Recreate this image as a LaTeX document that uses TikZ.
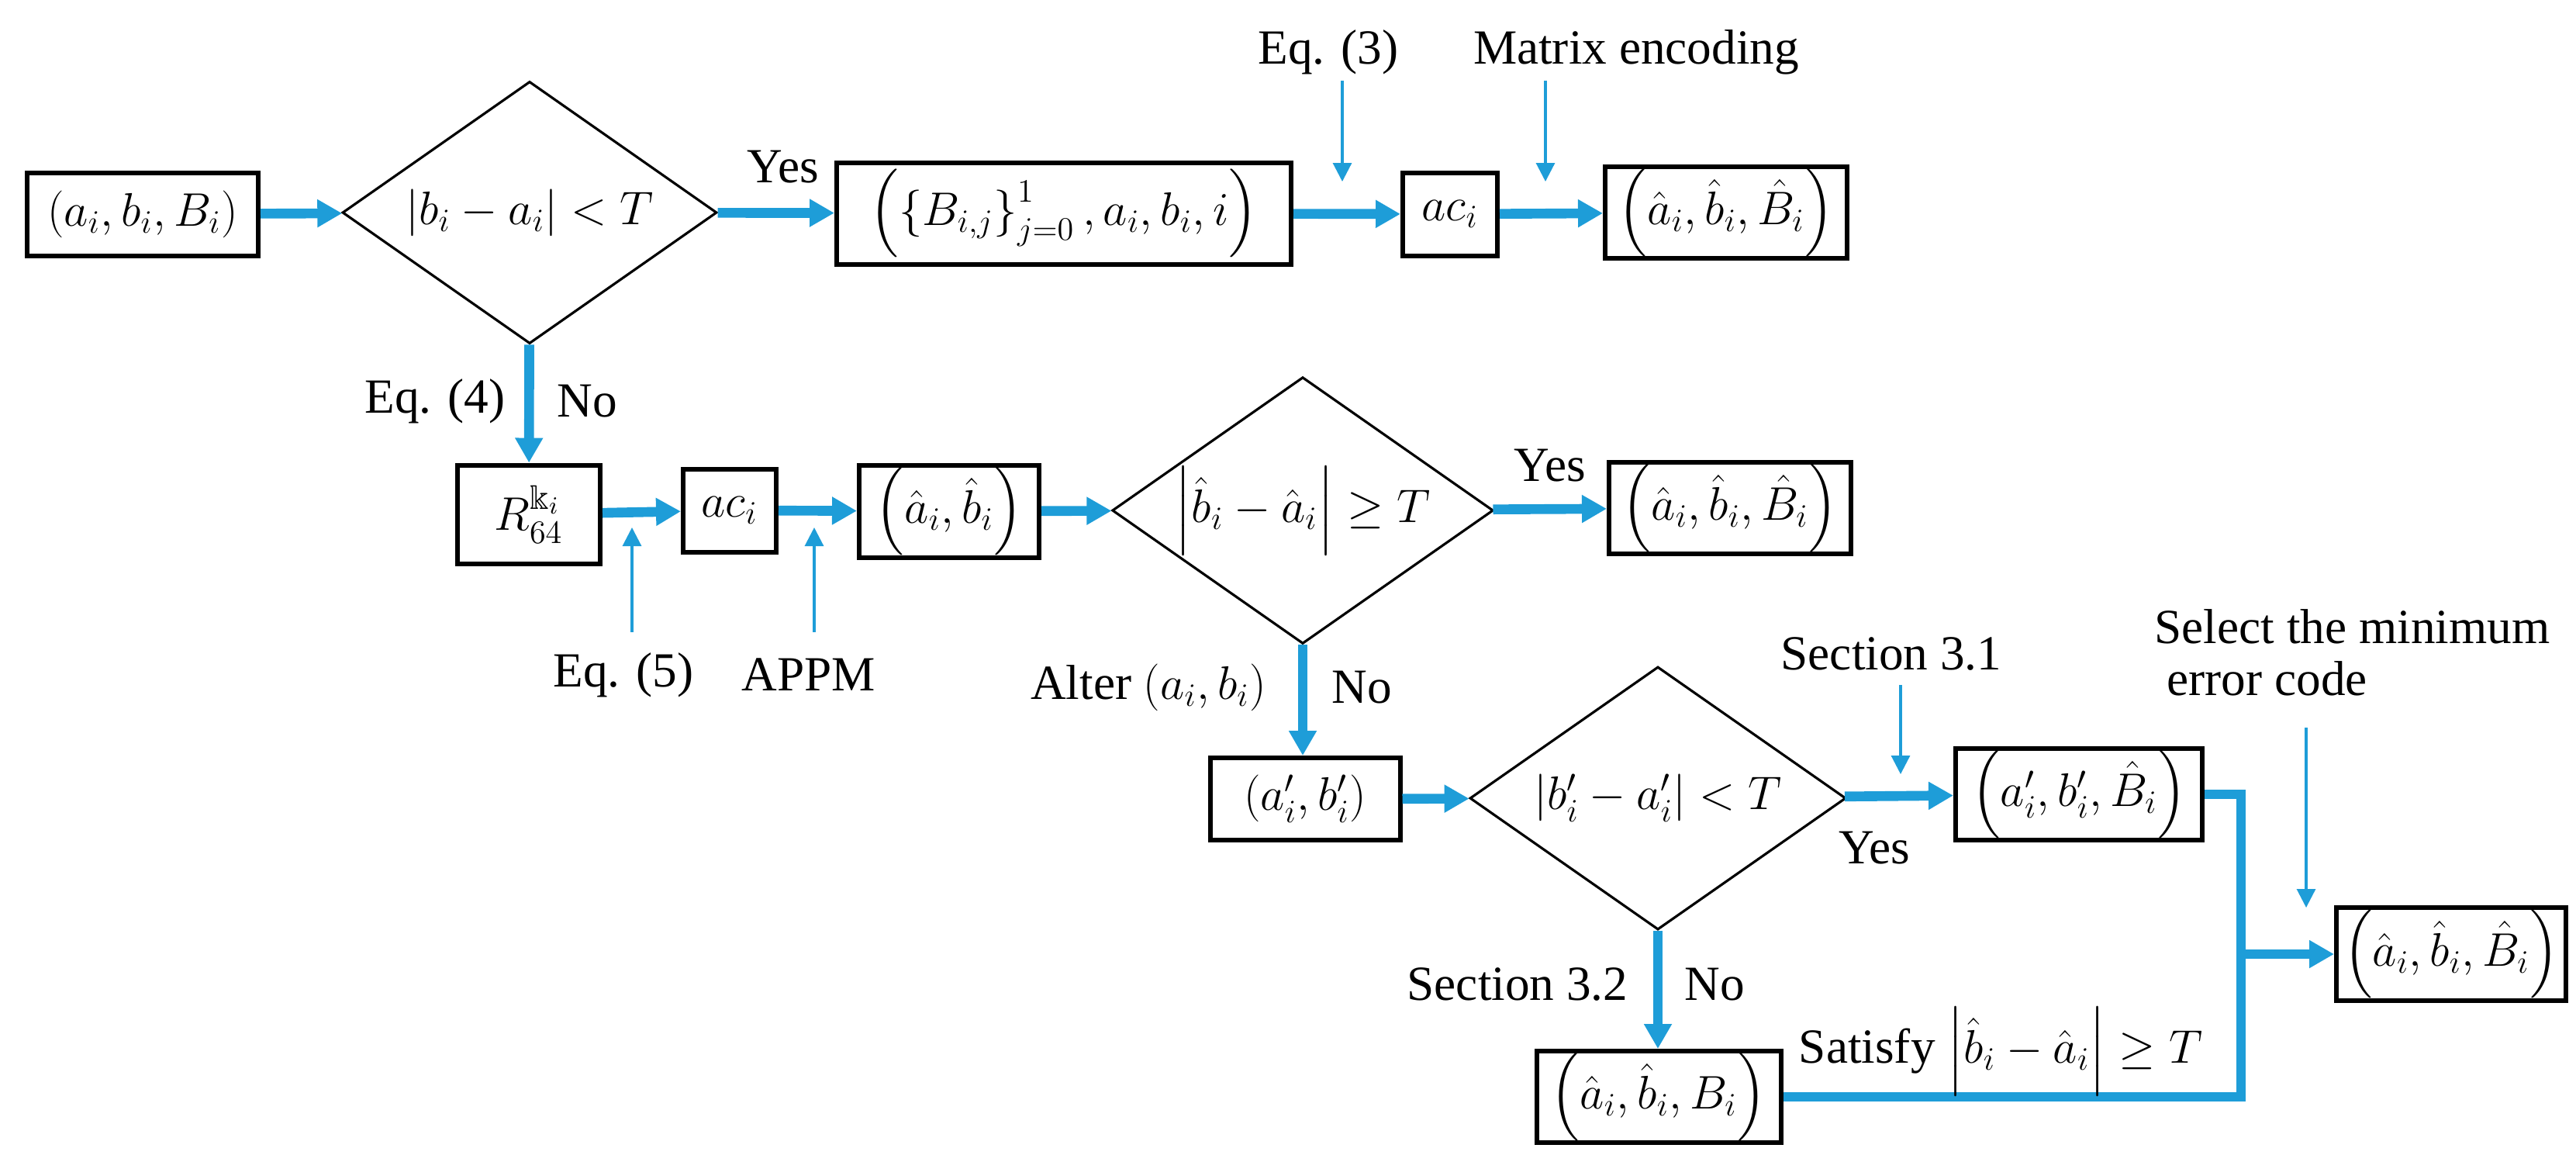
\documentclass[tikz,border=0pt]{standalone}
\usepackage{amssymb}
\usepackage{fontspec}
\setmainfont{Liberation Serif}
\usetikzlibrary{shapes.geometric,arrows.meta}
\definecolor{fblue}{RGB}{30,157,216}
\begin{document}
\fontsize{18}{21}\selectfont
\begin{tikzpicture}[
  every node/.style={font=\rmfamily},
  box/.style={draw=black,line width=1.7pt,inner sep=0pt,minimum width=#1,minimum height=1.15cm},
  dia/.style={draw=black,line width=0.9pt,diamond,aspect=1.43,inner sep=0pt,minimum width=4.83cm,minimum height=3.38cm},
  thick arrow/.style={draw=fblue,line width=3.6pt,-{Triangle[length=0.32cm,width=0.34cm]}},
  thick line/.style={draw=fblue,line width=3.6pt},
  thin arrow/.style={draw=fblue,line width=0.9pt,-{Triangle[length=0.24cm,width=0.24cm]}},
  lab/.style={inner sep=0pt}
]
\useasboundingbox (0,0) rectangle (33.22,-14.97);
% top row
\node[box=2.98cm,minimum height=1.07cm] (b1) at (1.84,-2.76) {$\left(a_i,b_i,B_i\right)$};
\node[dia] (d1) at (6.83,-2.74) {$|b_i-a_i|<T$};
\node[box=5.86cm,minimum height=1.31cm] (b2) at (13.72,-2.75) {$\left(\left\{B_{i,j}\right\}_{j=0}^{1},a_i,b_i,i\right)$};
\node[box=1.22cm,minimum height=1.07cm] (ac1) at (18.70,-2.76) {$ac_i$};
\node[box=3.12cm,minimum height=1.18cm] (out1) at (22.26,-2.74) {$\left(\hat a_i,\hat b_i,\hat B_i\right)$};
% second row
\node[box=1.84cm,minimum height=1.27cm] (R) at (6.82,-6.63) {$R_{64}^{\Bbbk_i}$};
\node[box=1.20cm,minimum height=1.07cm] (ac2) at (9.41,-6.58) {$ac_i$};
\node[box=2.32cm,minimum height=1.19cm] (ab) at (12.24,-6.59) {$\left(\hat a_i,\hat b_i\right)$};
\node[dia,minimum height=3.40cm,minimum width=4.82cm] (d2) at (16.80,-6.58) {$\left|\hat b_i-\hat a_i\right|\geq T$};
\node[box=3.12cm,minimum height=1.18cm] (out2) at (22.31,-6.55) {$\left(\hat a_i,\hat b_i,\hat B_i\right)$};
% third row
\node[box=2.45cm,minimum height=1.06cm] (abp) at (16.83,-10.30) {$\left(a_i',b_i'\right)$};
\node[dia,minimum width=4.85cm,minimum height=3.39cm] (d3) at (21.38,-10.29) {$|b_i'-a_i'|<T$};
\node[box=3.18cm,minimum height=1.18cm] (out3) at (26.81,-10.24) {$\left(a_i',b_i',\hat B_i\right)$};
\node[box=3.15cm,minimum height=1.18cm] (bot) at (21.39,-14.14) {$\left(\hat a_i,\hat b_i,B_i\right)$};
\node[box=2.96cm,minimum height=1.20cm] (fin) at (31.61,-12.30) {$\left(\hat a_i,\hat b_i,\hat B_i\right)$};
% main connectors
\draw[thick arrow] (b1) -- (d1);
\draw[thick arrow] (d1) -- (b2);
\draw[thick arrow] (b2) -- (ac1);
\draw[thick arrow] (ac1) -- (out1);
\draw[thick arrow] (d1) -- (R);
\draw[thick arrow] (R) -- (ac2);
\draw[thick arrow] (ac2) -- (ab);
\draw[thick arrow] (ab) -- (d2);
\draw[thick arrow] (d2) -- (out2);
\draw[thick arrow] (d2.south) -- (d2.south |- abp.north);
\draw[thick arrow] (abp) -- (d3);
\draw[thick arrow] (d3) -- (out3);
\draw[thick arrow] (d3.south) -- (d3.south |- bot.north);
\coordinate (J) at (28.90,-12.30);
\draw[thick line,line join=miter] (out3.east) -| (J);
\draw[thick line,line join=miter] (bot.east) -| (J);
\draw[thick arrow] (J) -- (fin);
% labels
\node[lab] (yes1) at (10.10,-2.15) {Yes};
\node[lab] (eq4) at (5.61,-5.17) {Eq. (4)};
\node[lab] (no1) at (7.57,-5.17) {No};
\node[lab] (eq3) at (17.13,-0.67) {Eq. (3)};
\node[lab] (mat) at (21.10,-0.67) {Matrix encoding};
\coordinate (eq3s) at (17.31,-1.04); \coordinate (eq3e) at (17.31,-2.34);
\draw[thin arrow] (eq3s) -- (eq3e);
\coordinate (mats) at (19.93,-1.04); \coordinate (mate) at (19.93,-2.34);
\draw[thin arrow] (mats) -- (mate);
\node[lab] (eq5) at (8.04,-8.70) {Eq. (5)};
\node[lab] (appm) at (10.43,-8.70) {APPM};
\coordinate (eq5s) at (8.15,-8.15); \coordinate (eq5e) at (8.15,-6.80);
\draw[thin arrow] (eq5s) -- (eq5e);
\coordinate (appms) at (10.50,-8.15); \coordinate (appme) at (10.50,-6.80);
\draw[thin arrow] (appms) -- (appme);
\node[lab] (yes2) at (19.99,-6.00) {Yes};
\node[lab] (alter) at (14.81,-8.86) {Alter $\left(a_i,b_i\right)$};
\node[lab] (no2) at (17.56,-8.86) {No};
\node[lab] (s31) at (24.39,-8.43) {Section 3.1};
\coordinate (s31s) at (24.51,-8.83); \coordinate (s31e) at (24.51,-9.98);
\draw[thin arrow] (s31s) -- (s31e);
\node[lab] (yes3) at (24.17,-10.93) {Yes};
\node[lab] (s32) at (19.57,-12.69) {Section 3.2};
\node[lab] (no3) at (22.11,-12.69) {No};
\node[lab] (sat) at (25.80,-13.55) {Satisfy $\left|\hat b_i-\hat a_i\right|\geq T$};
\node[lab,align=left,anchor=north west] (sel) at (27.78,-7.85) {Select the minimum\\[-2pt] \ error code};
\coordinate (sels) at (29.74,-9.38); \coordinate (sele) at (29.74,-11.70);
\draw[thin arrow] (sels) -- (sele);
\end{tikzpicture}
\end{document}
